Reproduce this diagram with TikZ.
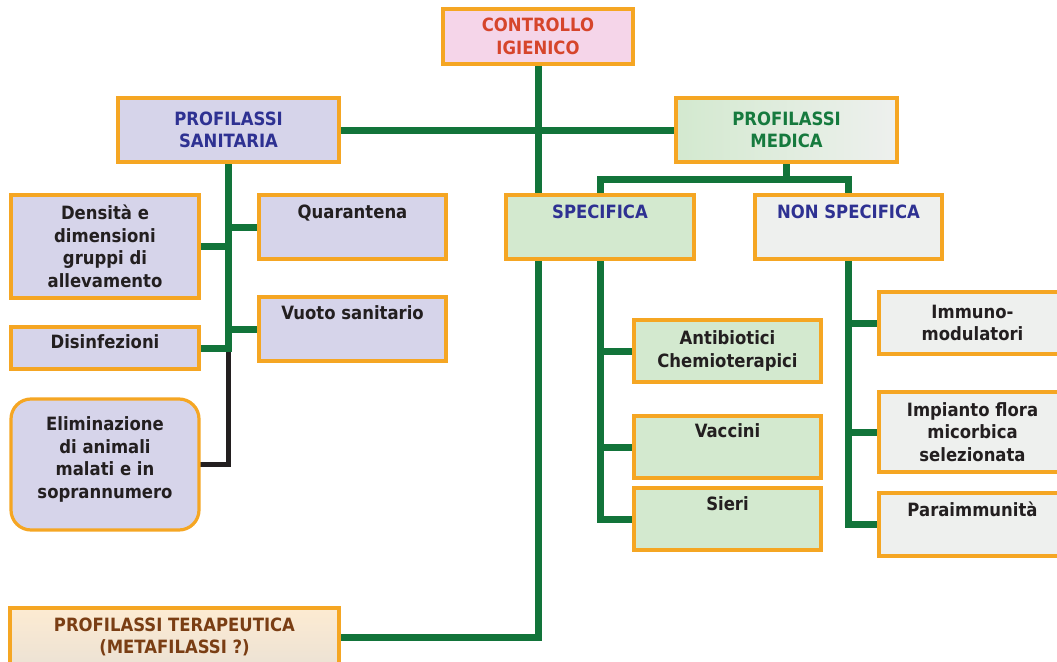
\documentclass[tikz,border=0pt]{standalone}
\usepackage{fontspec}
\setmainfont{DejaVu Sans}[FakeStretch=0.9]
\usetikzlibrary{backgrounds}
\definecolor{orb}{HTML}{F5A623}
\definecolor{lav}{HTML}{D6D4EA}
\definecolor{pinkf}{HTML}{F5D5E9}
\definecolor{grf}{HTML}{D3E9CF}
\definecolor{greyf}{HTML}{EEF0EE}
\definecolor{lgreen}{HTML}{12743A}
\definecolor{tblue}{HTML}{2E3192}
\definecolor{tred}{HTML}{D6452B}
\definecolor{tgreen}{HTML}{167A3E}
\definecolor{tbrown}{HTML}{7A3E14}
\definecolor{tdark}{HTML}{231F20}
\definecolor{crtop}{HTML}{FDEBD2}
\definecolor{crbot}{HTML}{ECE2D4}
\newcommand\topbx[4]{\parbox[c][#2][t]{#1}{\centering\vspace*{#3}#4\par}}
\begin{document}
\begin{tikzpicture}[x=1pt,y=-1pt,
  box/.style={draw=orb, line width=3.2pt, inner sep=0pt, align=center,
    font=\fontsize{18.3}{22.5}\selectfont\bfseries, text=tdark},
  conn/.style={draw=lgreen, line width=7pt, line cap=rect, line join=miter},
  blk/.style={draw=tdark, line width=5pt, line cap=rect, line join=miter}]
\useasboundingbox (0,0) rectangle (1057,661);
\clip (0,0) rectangle (1057,661);
% boxes
\node[box, fill=pinkf, text=tred, minimum width=190pt, minimum height=55pt] (ctrl) at (538,36.5) {CONTROLLO\\IGIENICO};
\node[box, fill=lav, text=tblue, minimum width=221pt, minimum height=64pt] (san) at (228.5,130) {PROFILASSI\\SANITARIA};
\node[box, left color=grf, right color=greyf, text=tgreen, minimum width=221pt, minimum height=64pt] (med) at (786.5,130) {PROFILASSI\\MEDICA};
\node[box, fill=lav, minimum width=188pt, minimum height=103pt] (den) at (105,246.5) {Densità e\\dimensioni\\gruppi di\\allevamento};
\node[box, fill=lav, minimum width=187pt, minimum height=64pt] (quar) at (352.5,227) {\topbx{187pt}{64pt}{9.5pt}{Quarantena}};
\node[box, fill=lav, minimum width=187pt, minimum height=64pt] (vuo) at (352.5,329) {\topbx{187pt}{64pt}{9pt}{Vuoto sanitario}};
\node[box, fill=lav, minimum width=188pt, minimum height=42pt] (dis) at (105,348) {\topbx{188pt}{42pt}{7.5pt}{Disinfezioni}};
\node[box, fill=lav, rounded corners=20pt, minimum width=188pt, minimum height=131pt] (elim) at (105,464.5) {\topbx{188pt}{131pt}{18pt}{Eliminazione\\di animali\\malati e in\\soprannumero}};
\node[box, fill=grf, text=tblue, minimum width=188pt, minimum height=64pt] (spec) at (600,227) {\topbx{188pt}{64pt}{9.5pt}{SPECIFICA}};
\node[box, fill=greyf, text=tblue, minimum width=187pt, minimum height=64pt] (nspec) at (848.5,227) {\topbx{187pt}{64pt}{9.5pt}{NON SPECIFICA}};
\node[box, fill=grf, minimum width=187pt, minimum height=62pt] (anti) at (727.5,351) {Antibiotici\\Chemioterapici};
\node[box, fill=grf, minimum width=187pt, minimum height=62pt] (vac) at (727.5,447) {\topbx{187pt}{62pt}{8pt}{Vaccini}};
\node[box, fill=grf, minimum width=187pt, minimum height=62pt] (sie) at (727.5,519) {\topbx{187pt}{62pt}{9pt}{Sieri}};
\node[box, fill=greyf, minimum width=187pt, minimum height=62pt] (imm) at (972.5,323) {Immuno-\\modulatori};
\node[box, fill=greyf, minimum width=187pt, minimum height=80pt] (imp) at (972.5,432) {Impianto flora\\micorbica\\selezionata};
\node[box, fill=greyf, minimum width=187pt, minimum height=63pt] (para) at (972.5,524.5) {\topbx{187pt}{63pt}{9pt}{Paraimmunità}};
\node[box, top color=crtop, bottom color=crbot, text=tbrown, minimum width=329pt, minimum height=58pt] (ter) at (174.5,637) {\topbx{329pt}{58pt}{9.5pt}{PROFILASSI TERAPEUTICA\\(METAFILASSI ?)}};
\coordinate (mj) at (786.5,179);
% connectors
\begin{scope}[on background layer]
\draw[blk] (dis.east -| san.south) |- (elim.east);
\draw[conn] (ctrl.south) |- (ter.east);
\draw[conn] (san.east) -- (med.west);
\draw[conn] (san.south) |- (dis.east);
\draw[conn] (den.east) -- (den.east -| san.south);
\draw[conn] (quar.west) -- (quar.west -| san.south);
\draw[conn] (vuo.west) -- (vuo.west -| san.south);
\draw[conn] (med.south) -- (mj);
\draw[conn] (spec.north) |- (mj) -| (nspec.north);
\draw[conn] (spec.south) |- (sie.west);
\draw[conn] (anti.west) -- (anti.west -| spec.south);
\draw[conn] (vac.west) -- (vac.west -| spec.south);
\draw[conn] (nspec.south) |- (para.west);
\draw[conn] (imm.west) -- (imm.west -| nspec.south);
\draw[conn] (imp.west) -- (imp.west -| nspec.south);
\end{scope}
\end{tikzpicture}
\end{document}
